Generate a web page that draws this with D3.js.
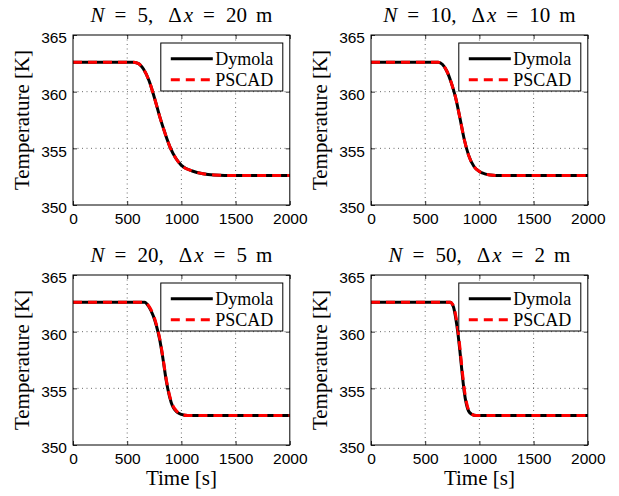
<!DOCTYPE html>
<html lang="en">
<head>
<meta charset="UTF-8" />
<title>Temperature: Dymola vs PSCAD</title>
<style>
  body { margin: 0; background: #fff; }
  svg { display: block; font-family: 'Liberation Serif', 'Times New Roman', serif; }
  .tick line { stroke: #000; stroke-width: 0.8; }
  .domain { display: none; }
  .tick text { font-size: 15.5px; fill: #000; }
  .grid line { stroke: #444; stroke-width: 0.8; stroke-dasharray: 1,3.5; }
  .frame { fill: none; stroke: #000; stroke-width: 1; }
  .dymola { fill: none; stroke: #000; stroke-width: 3; }
  .pscad { fill: none; stroke: #f00; stroke-width: 3; stroke-dasharray: 9,6; }
  .title { font-size: 21px; }
  .label { font-size: 21px; }
  .legend-text { font-size: 18px; }
</style>
</head>
<body>
<svg id="chart" width="619" height="496"></svg>
<script src="https://cdn.jsdelivr.net/npm/d3@7/dist/d3.min.js"></script>
<script>
// ---- data ----
const timeN5    = [0, 550, 600, 650, 700, 750, 800, 850, 900, 950, 1000, 1100, 1200, 1300, 1500, 2000];
const dymolaN5  = [362.6, 362.6, 362.5, 362.0, 361.0, 359.5, 357.8, 356.3, 355.0, 354.1, 353.5, 353.0, 352.75, 352.65, 352.6, 352.6];
const pscadN5   = [362.6, 362.6, 362.5, 362.0, 361.0, 359.5, 357.8, 356.3, 355.0, 354.1, 353.5, 353.0, 352.75, 352.65, 352.6, 352.6];

const timeN10   = [0, 620, 660, 700, 740, 780, 820, 860, 900, 950, 1000, 1050, 1100, 1200, 2000];
const dymolaN10 = [362.6, 362.6, 362.4, 361.8, 360.8, 359.5, 357.7, 355.8, 354.4, 353.4, 352.95, 352.75, 352.65, 352.6, 352.6];
const pscadN10  = [362.6, 362.6, 362.4, 361.8, 360.8, 359.5, 357.7, 355.8, 354.4, 353.4, 352.95, 352.75, 352.65, 352.6, 352.6];

const timeN20   = [0, 660, 700, 740, 770, 800, 830, 860, 890, 920, 960, 1000, 1060, 2000];
const dymolaN20 = [362.6, 362.6, 362.2, 361.4, 360.5, 359.3, 357.6, 355.7, 354.3, 353.4, 352.9, 352.7, 352.6, 352.6];
const pscadN20  = [362.6, 362.6, 362.25, 361.5, 360.6, 359.4, 357.7, 355.8, 354.4, 353.5, 352.95, 352.7, 352.6, 352.6];

const timeN50   = [0, 730, 760, 780, 800, 820, 840, 860, 880, 900, 930, 970, 2000];
const dymolaN50 = [362.6, 362.6, 362.2, 361.3, 360.0, 358.3, 356.4, 354.7, 353.6, 353.0, 352.7, 352.6, 352.6];
const pscadN50  = [362.6, 362.6, 362.3, 361.5, 360.3, 358.6, 356.7, 355.0, 353.8, 353.1, 352.7, 352.6, 352.6];

const panelN  = ["5", "10", "20", "50"];
const panelDx = ["20", "10", "5", "2"];
const xTicks = [0, 500, 1000, 1500, 2000];
const yTicks = [350, 355, 360, 365];
const seriesNames = ["Dymola", "PSCAD"];

const panels = [
  { t: timeN5,  d: dymolaN5,  p: pscadN5 },
  { t: timeN10, d: dymolaN10, p: pscadN10 },
  { t: timeN20, d: dymolaN20, p: pscadN20 },
  { t: timeN50, d: dymolaN50, p: pscadN50 }
];

const svg = d3.select("#chart");
const lefts = [73, 371];
const tops = [35, 275];
const w = 216.8, h = 170;

const x = d3.scaleLinear().domain([0, 2000]).range([0, w]);
const y = d3.scaleLinear().domain([350, 365]).range([h, 0]);

panels.forEach((pd, i) => {
  const col = i % 2, row = Math.floor(i / 2);
  const g = svg.append("g").attr("transform", `translate(${lefts[col]},${tops[row]})`);

  // grid
  const grid = g.append("g").attr("class", "grid");
  grid.selectAll(".gx").data(xTicks.slice(1, -1)).enter().append("line")
    .attr("x1", d => x(d)).attr("x2", d => x(d)).attr("y1", 0).attr("y2", h);
  grid.selectAll(".gy").data(yTicks.slice(1, -1)).enter().append("line")
    .attr("y1", d => y(d)).attr("y2", d => y(d)).attr("x1", 0).attr("x2", w);

  // axes, inward ticks
  g.append("g").attr("transform", `translate(0,${h})`)
    .call(d3.axisBottom(x).tickValues(xTicks).tickSize(-4).tickPadding(8).tickFormat(d3.format("d")));
  g.append("g").call(d3.axisTop(x).tickValues(xTicks).tickSize(-4).tickFormat(""));
  const ya = g.append("g")
    .call(d3.axisLeft(y).tickValues(yTicks).tickSize(-4).tickPadding(6).tickFormat(d3.format("d")));
  ya.selectAll("text").attr("dy", "0.5em");
  g.append("g").attr("transform", `translate(${w},0)`)
    .call(d3.axisRight(y).tickValues(yTicks).tickSize(-4).tickFormat(""));

  // curves
  const line = d3.line().x(d => x(d[0])).y(d => y(d[1])).curve(d3.curveMonotoneX);
  g.append("path").attr("class", "dymola").attr("d", line(pd.t.map((t, k) => [t, pd.d[k]])));
  g.append("path").attr("class", "pscad").attr("d", line(pd.t.map((t, k) => [t, pd.p[k]])));

  g.append("rect").attr("class", "frame").attr("width", w).attr("height", h);

  // legend
  const lg = g.append("g").attr("transform", `translate(${w - 129},8)`);
  lg.append("rect").attr("width", 122).attr("height", 48)
    .attr("fill", "#fff").attr("stroke", "#000").attr("stroke-width", 1);
  seriesNames.forEach((s, k) => {
    const yy = 15.7 + k * 21;
    lg.append("line").attr("class", k === 0 ? "dymola" : "pscad")
      .attr("x1", 10).attr("x2", 52).attr("y1", yy).attr("y2", yy);
    lg.append("text").attr("class", "legend-text").attr("x", 54.5).attr("y", yy + 6).text(s);
  });

  // title, spaced like TeX math
  const title = g.append("text").attr("class", "title")
    .attr("x", w / 2).attr("y", -13).attr("text-anchor", "middle");
  title.append("tspan").attr("font-style", "italic").text("N");
  title.append("tspan").attr("dx", 10).text("=");
  title.append("tspan").attr("dx", 11).text(`${panelN[i]},`);
  title.append("tspan").attr("dx", 15).text("\u0394");
  title.append("tspan").attr("dx", 2).attr("font-style", "italic").text("x");
  title.append("tspan").attr("dx", 10).text("=");
  title.append("tspan").attr("dx", 11).text(panelDx[i]);
  title.append("tspan").attr("dx", 9).text("m");

  // y label
  g.append("text").attr("class", "label")
    .attr("transform", `translate(-44,${h / 2}) rotate(-90)`)
    .attr("text-anchor", "middle").text("Temperature [K]");

  if (row === 1) {
    g.append("text").attr("class", "label")
      .attr("x", w / 2).attr("y", 210).attr("text-anchor", "middle").text("Time [s]");
  }
});
</script>
</body>
</html>
